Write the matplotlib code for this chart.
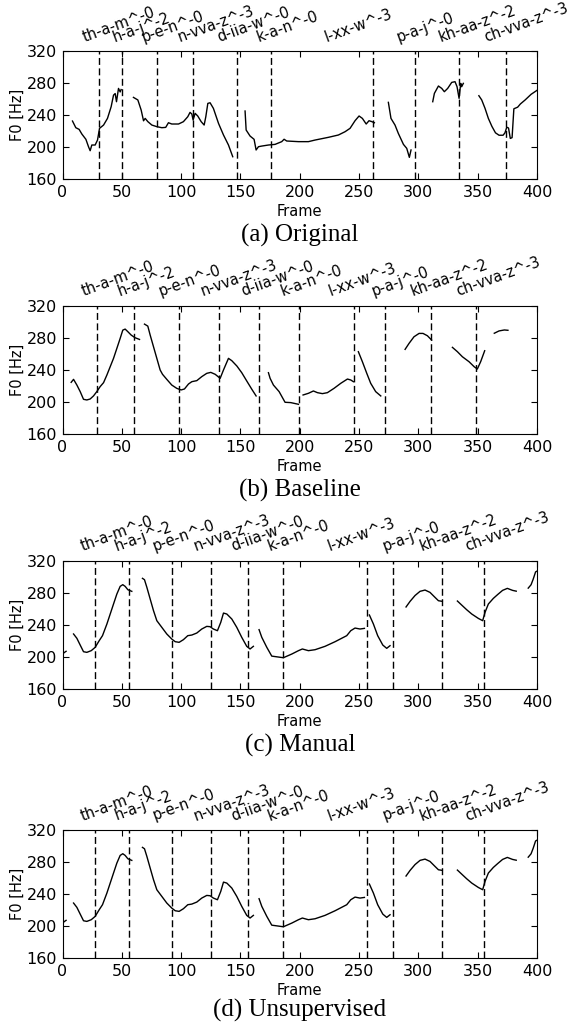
import matplotlib
matplotlib.use("Agg")
import matplotlib.pyplot as plt
import matplotlib.transforms as mtransforms

syllables = ["th-a-m^-0", "h-a-j^-2", "p-e-n^-0", "n-vva-z^-3", "d-iia-w^-0",
             "k-a-n^-0", "l-xx-w^-3", "p-a-j^-0", "kh-aa-z^-2", "ch-vva-z^-3"]

# (a) Original
orig_bounds = [31, 50, 80, 110, 147, 176, 262, 297, 334, 374]
orig_x = [
    [8.4, 11.2, 14, 16.3, 19.7, 21.9, 23.3, 24.7, 27.5, 29.5, 31.2, 34.6, 37.9, 41, 43, 44.4, 45.5, 47.2, 48.6, 49.4],
    [59.8, 63.5, 66.3, 68.3, 69.7, 71.9, 75.3, 79.5, 83.7, 87, 89.3, 92.1, 97.8, 101.9, 105.6, 107.5, 109, 110.1,
     111.8, 114, 116.9, 119.4, 120.8, 122.5, 124.4, 127.2, 131.5, 135.7, 139.9, 143.5],
    [153.9, 154.8, 158.1, 161.5, 163.2, 165.2, 168, 173.6, 179.2, 184.8, 186.8, 189, 198.9, 207.3, 212.9, 224.2,
     232.6, 238.2, 242.4, 246.6, 250, 252.8, 256, 258.4, 260.7, 262.9],
    [274.7, 276.9, 280.3, 283.1, 287.4, 290.2, 292.4, 293.8],
    [312.1, 313.5, 316.9, 319.7, 321.9, 324.7, 328.1, 330.9, 332.6, 334.3, 335.7, 336.5, 337.9],
    [351, 353.4, 356.2, 359, 362, 365, 368, 371.4, 373, 374.5, 376, 377.5, 379, 380.5, 383.7, 386, 390, 395, 400],
]
orig_f0 = [
    [232.7, 224.4, 222.3, 216.5, 209.9, 200.7, 195.7, 202.8, 202.8, 209, 223.6, 227.7, 236, 250.6, 265, 267, 256.8,
     273.4, 269, 272],
    [262.2, 259, 246.4, 233, 236, 232, 227.7, 225.7, 224.4, 224.8, 230.6, 229, 229, 231.9, 238.1, 243.5, 241.5, 234,
     242.3, 239, 231.9, 227.7, 238.1, 254.7, 255.5, 248.5, 229.8, 215.3, 202.8, 188.2],
    [245.2, 221.5, 214, 209.9, 196.6, 200.7, 201.5, 202.8, 203.6, 207, 210, 207.8, 207, 207, 209, 212.4, 215.3, 219.4,
     223.6, 233.1, 239, 236, 229, 233.1, 232, 230.6],
    [256, 236, 227.7, 217.3, 203.6, 198.6, 187.4, 196.6],
    [256.8, 267.2, 276.4, 273.4, 269.3, 273.4, 280.9, 281.8, 275.5, 261, 279.7, 275.5, 279.7],
    [264.3, 259, 248.5, 236, 226, 218, 215, 215, 218, 225, 224, 211, 212, 248, 250, 254, 259, 266, 271],
]

# (b) Baseline
base_bounds = [29, 60, 98, 131.5, 165.5, 199.5, 245.5, 272, 311, 349]
base_x = [
    [7.3, 9.3, 12.1, 14.9, 17.7, 20.5, 23.3, 26.1, 28.9, 31.7, 34.6, 37.4, 40.2, 43, 45.8, 48.6, 50.8, 52.8, 55.1,
     57.9, 61.2, 64.9],
    [69.1, 71.9, 73.9, 76.7, 79.5, 82.3, 84.3, 87.9, 92.1, 96.3, 100, 102.8, 106.2, 109, 113.2, 117.4, 121.6, 125,
     128.7, 132.9, 135.7, 139.9, 142.7, 147, 151.1, 155.3, 159.6, 163.2],
    [173.6, 175, 177.8, 182.6, 187.6, 192.4, 198.9],
    [202.8, 207.3, 211.5, 214.9, 219.1, 223.3, 228.9, 234.6, 240.2, 243, 245.2],
    [249.4, 252.8, 256.5, 259.8, 264, 268.3],
    [288.8, 292.1, 296.3, 300.6, 303.9, 307.6, 311.2],
    [328.7, 332.9, 337.1, 342.7, 347, 349.7, 352.5, 355.9],
    [364, 368, 372.5, 375.5],
]
base_f0 = [
    [224.4, 228.1, 221, 212.8, 203.2, 202.4, 203.6, 207.4, 212.8, 219, 224, 233.5, 243.9, 254.3, 266.7, 279.2, 289.5,
     290.8, 287.5, 283.3, 280, 277.9],
    [297, 294.5, 283.3, 268.8, 254.3, 239.8, 234.4, 228.1, 221, 216.9, 214.9, 216.1, 222.3, 225.2, 226.5, 231.5,
     235.6, 236.8, 234.4, 229.4, 239.8, 254.3, 251.4, 244.7, 236.4, 226.1, 215.7, 207.4],
    [236.4, 229.4, 221, 212.8, 199.5, 199.1, 197],
    [208.6, 210.7, 213.6, 211.5, 210.3, 211.5, 216.9, 223.2, 228.5, 227.3, 225.2],
    [262.6, 250.1, 235.6, 223.2, 212.8, 207.4],
    [265.5, 272.9, 281.2, 285.4, 285.4, 282.5, 277.1],
    [268, 262.6, 256.3, 250.1, 243.9, 241, 250.1, 263.8],
    [285.6, 288.5, 289.7, 289.3],
]

# (c) Manual
man_bounds = [27.3, 56.2, 92, 125, 156.2, 186.2, 257, 279, 320.2, 355.6]
man_x = [
    [0, 1, 3],
    [9.3, 12.1, 14.9, 17.7, 20.5, 24.2, 27.5, 30.9, 33.7, 37.4, 40.2, 43, 45.8, 48.6, 50.8, 52.8, 55.1, 58.4],
    [67.4, 69.1, 71.1, 73.9, 76.7, 79.5, 83.7, 87.9, 92.1, 95, 98.3, 101.9, 105.6, 109, 113.2, 117.4, 121.6, 124.4,
     127.2, 130.6, 133.4, 135.7, 138.5, 142.7, 146.9, 151.1, 155.3, 158.1, 160.9],
    [165.7, 168, 172.2, 176.4, 186.2, 193.3, 198.9, 202.2, 207.3, 212.9, 221.3, 229.8, 239.6, 243, 246.6, 250.8, 254.5],
    [258.7, 262.1, 265.7, 270, 273.3, 276.1],
    [289.6, 293, 297.2, 301.4, 305.6, 309.8, 314, 316.9, 320.2],
    [332.9, 336.5, 340.7, 345, 350.6, 354.2, 356.2, 359, 363.2, 367, 371, 375, 379.4, 382.5],
    [392.6, 395, 396.8, 398.8, 400],
]
man_f0 = [
    [201, 205, 207],
    [228.6, 223.2, 214.8, 206.5, 205.7, 207.8, 211.9, 220.2, 226.5, 241, 253.5, 266, 278.4, 288, 290.1, 288, 283.8,
     281.8],
    [298, 296.3, 286.8, 272.2, 257.7, 245.2, 236.9, 228.6, 222.3, 219, 218.2, 221.5, 226.5, 227.3, 229.8, 234.8, 238.1,
     237.7, 234.8, 232.7, 243.1, 254.7, 253.5, 247.3, 236.9, 224.4, 213.2, 209.9, 213.2],
    [234, 224.4, 212, 201, 199, 203.6, 207.8, 209.9, 207.8, 209, 213.2, 219, 226.5, 232.7, 236, 234.8, 235.6],
    [252.3, 241, 226.5, 214.8, 210.7, 214],
    [262.3, 269.3, 276.6, 281.8, 283.4, 280.5, 274.3, 270.1, 269.3],
    [269.7, 264.7, 258.9, 253.5, 248, 245.2, 255.6, 266, 273, 278, 283, 285.5, 283, 282],
    [285.8, 290, 297, 306, 307],
]

# (d) Unsupervised -- reads the same as (c)
uns_bounds = man_bounds
uns_x = man_x
uns_f0 = man_f0

captions = ["(a) Original", "(b) Baseline", "(c) Manual", "(d) Unsupervised"]
panels = [(orig_bounds, orig_x, orig_f0), (base_bounds, base_x, base_f0),
          (man_bounds, man_x, man_f0), (uns_bounds, uns_x, uns_f0)]

fig = plt.figure(figsize=(5.72, 10.23), dpi=100)
bottoms = [0.8247, 0.5758, 0.3265, 0.0635]
cap_y = [1 - 235 / 1023, 1 - 490 / 1023, 1 - 745 / 1023, 1 - 1010 / 1023]

for (bounds, xs, ys), bot, cap, cy in zip(panels, bottoms, captions, cap_y):
    ax = fig.add_axes([0.1093, bot, 0.8295, 0.1254])
    for sx, sy in zip(xs, ys):
        ax.plot(sx, sy, color="k", lw=1.0)
    for b in bounds:
        ax.axvline(b, color="k", lw=1.0, ls=(0, (5, 2.5)))
    ax.set_xlim(0, 400)
    ax.set_ylim(160, 320)
    ax.set_xticks(range(0, 401, 50))
    ax.set_yticks(range(160, 321, 40))
    ax.tick_params(direction="in", top=True, right=True, labelsize=11.5, length=4, pad=4)
    ax.set_xlabel("Frame", fontsize=10.5, labelpad=3)
    ax.set_ylabel("F0 [Hz]", fontsize=10.5, labelpad=1)
    trans = mtransforms.blended_transform_factory(ax.transData, ax.transAxes)
    edges = [0] + bounds
    for i, lab in enumerate(syllables):
        mid = (edges[i] + edges[i + 1]) / 2
        ax.text(mid, 1.05, lab, transform=trans, rotation=20, ha="left", va="bottom", fontsize=10.5)
    fig.text(0.5245, cy, cap, ha="center", va="center", family="Liberation Serif", fontsize=18)

fig.savefig("out.png", dpi=100)
